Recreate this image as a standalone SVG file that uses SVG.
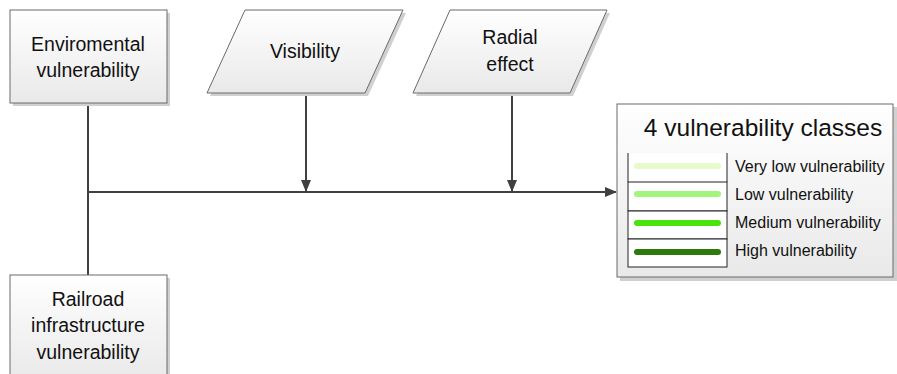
<svg xmlns="http://www.w3.org/2000/svg" width="897" height="374" viewBox="0 0 897 374">
<defs>
<linearGradient id="g" x1="0" y1="0" x2="0" y2="1">
<stop offset="0" stop-color="#ffffff"/>
<stop offset="1" stop-color="#e9e9e9"/>
</linearGradient>
<marker id="ah" markerWidth="12" markerHeight="10" refX="11" refY="5" orient="auto" markerUnits="userSpaceOnUse">
<path d="M0,0 L12,5 L0,10 Z" fill="#404040"/>
</marker>
</defs>
<style>
.node{fill:url(#g);stroke:#6a6a6a;stroke-width:1}
.sh{fill:#d0d0d0}
.t{font-family:"Liberation Sans",Arial,sans-serif;font-size:19.5px;fill:#111;text-anchor:middle}
.lt{font-family:"Liberation Sans",Arial,sans-serif;font-size:16px;fill:#111}
.c{stroke:#404040;stroke-width:2;fill:none}
.row{fill:#fff;stroke:#222;stroke-width:1}
.bar{stroke-width:6;stroke-linecap:round}
</style>
<g id="connectors">
<line class="c" x1="88" y1="104" x2="88" y2="275"/>
<line class="c" x1="88" y1="192" x2="616" y2="192" marker-end="url(#ah)"/>
<line class="c" x1="306" y1="93" x2="306" y2="191" marker-end="url(#ah)"/>
<line class="c" x1="512" y1="93" x2="512" y2="191" marker-end="url(#ah)"/>
</g>
<g id="env">
<rect class="sh" x="13" y="13" width="157" height="93"/>
<rect class="node" x="10" y="10" width="157" height="93"/>
<text class="t" x="88" y="51">Enviromental</text>
<text class="t" x="88" y="77">vulnerability</text>
</g>
<g id="rail">
<rect class="sh" x="13" y="278" width="157" height="100"/>
<rect class="node" x="10" y="275" width="157" height="105"/>
<text class="t" x="88" y="306">Railroad</text>
<text class="t" x="88" y="332">infrastructure</text>
<text class="t" x="88" y="359">vulnerability</text>
</g>
<g id="visibility">
<polygon class="sh" points="248,13 406,13 368,96 210,96"/>
<polygon class="node" points="245,10 403,10 365,93 207,93"/>
<text class="t" x="305" y="58">Visibility</text>
</g>
<g id="radial">
<polygon class="sh" points="453,13 610,13 573,96 416,96"/>
<polygon class="node" points="450,10 607,10 570,93 413,93"/>
<text class="t" x="510" y="44">Radial</text>
<text class="t" x="510" y="71">effect</text>
</g>
<g id="legend">
<rect class="sh" x="620" y="107" width="277" height="174"/>
<rect class="node" x="617" y="104" width="276" height="173"/>
<text x="763" y="136" style="font-family:'Liberation Sans',Arial,sans-serif;font-size:24.5px;fill:#111;text-anchor:middle">4 vulnerability classes</text>
<rect x="628" y="153" width="99" height="29" fill="#fff"/>
<line x1="628" y1="153" x2="628" y2="182" stroke="#222"/>
<line x1="727" y1="153" x2="727" y2="182" stroke="#222"/>
<rect class="row" x="628" y="182" width="99" height="29"/>
<rect class="row" x="628" y="211" width="99" height="28"/>
<rect class="row" x="628" y="239" width="99" height="28"/>
<line class="bar" x1="637" y1="166" x2="718" y2="166" stroke="#e6fbc9"/>
<line class="bar" x1="637" y1="194" x2="718" y2="194" stroke="#a1f57c"/>
<line class="bar" x1="637" y1="223" x2="718" y2="223" stroke="#4ae30e"/>
<line class="bar" x1="637" y1="252" x2="718" y2="252" stroke="#2b7a0b"/>
<text class="lt" x="735" y="172">Very low vulnerability</text>
<text class="lt" x="735" y="200">Low vulnerability</text>
<text class="lt" x="735" y="228">Medium vulnerability</text>
<text class="lt" x="735" y="256">High vulnerability</text>
</g>
</svg>
